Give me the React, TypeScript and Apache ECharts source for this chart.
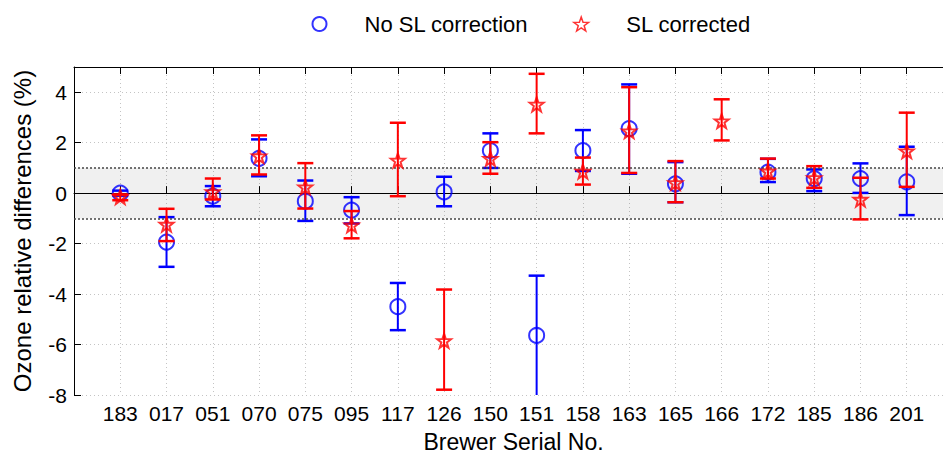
import React, { useEffect, useRef } from "react";
import * as echarts from "echarts";

// Brewer instruments along the x axis
const categories = [
  "183", "017", "051", "070", "075", "095", "117", "126", "150",
  "151", "158", "163", "165", "166", "172", "185", "186", "201",
];

// Relative ozone differences (%) without stray-light correction
const noSlMean = [0.0, -1.94, -0.12, 1.38, -0.32, -0.67, -4.5, 0.05, 1.69, -5.64, 1.69, 2.56, 0.37, null, 0.83, 0.58, 0.58, 0.45];
const noSlLow = [-0.1, -2.92, -0.52, 0.67, -1.1, -1.2, -5.43, -0.52, 1.0, -8.3, 0.88, 0.77, -0.36, null, 0.44, 0.08, 0.01, -0.87];
const noSlHigh = [0.1, -0.95, 0.28, 2.13, 0.5, -0.16, -3.56, 0.65, 2.37, -3.27, 2.5, 4.31, 1.23, null, 1.36, 0.94, 1.18, 1.84];

// Relative ozone differences (%) after stray-light correction
const slMean = [-0.15, -1.24, 0.05, 1.47, 0.24, -1.27, 1.3, -5.85, 1.37, 3.52, 0.86, 2.46, 0.41, 2.86, 0.87, 0.61, -0.25, 1.67];
const slLow = [-0.28, -1.9, -0.25, 0.74, -0.61, -1.79, -0.12, -7.79, 0.77, 2.37, 0.34, 0.8, -0.36, 2.09, 0.58, 0.21, -1.04, 0.25];
const slHigh = [-0.05, -0.62, 0.58, 2.29, 1.19, -0.71, 2.79, -3.82, 2.02, 4.73, 1.41, 4.2, 1.27, 3.72, 1.37, 1.07, 0.61, 3.19];

// Tolerance band (%)
const bandLimits = [-1, 1];

const BLUE = "#0000ff";
const RED = "#ff0000";
const FONT = "'Liberation Sans', Arial, sans-serif";
const STAR =
  "path://M10 0 L12.35 6.76 L19.51 6.91 L13.80 11.24 L15.88 18.09 L10 14 L4.12 18.09 L6.20 11.24 L0.49 6.91 L7.65 6.76 Z";

function points(mean: (number | null)[]) {
  const out: number[][] = [];
  mean.forEach((v, i) => {
    if (v !== null) out.push([i + 1, v]);
  });
  return out;
}

function bars(low: (number | null)[], high: (number | null)[]) {
  const out: number[][] = [];
  low.forEach((v, i) => {
    const h = high[i];
    if (v !== null && h !== null) out.push([i + 1, v, h]);
  });
  return out;
}

function errorBarSeries(name: string, color: string, data: number[][], z: number) {
  return {
    name,
    type: "custom",
    clip: true,
    z,
    data,
    encode: { x: 0, y: [1, 2] },
    renderItem: (_params: any, api: any) => {
      const x = api.value(0);
      const lo = api.coord([x, api.value(1)]);
      const hi = api.coord([x, api.value(2)]);
      const half = 8;
      const stem = { stroke: color, lineWidth: 2, fill: "none" };
      const cap = { stroke: color, lineWidth: 2.5, fill: "none" };
      return {
        type: "group",
        children: [
          { type: "line", shape: { x1: lo[0], y1: lo[1], x2: hi[0], y2: hi[1] }, style: stem },
          { type: "line", shape: { x1: hi[0] - half, y1: hi[1], x2: hi[0] + half, y2: hi[1] }, style: cap },
          { type: "line", shape: { x1: lo[0] - half, y1: lo[1], x2: lo[0] + half, y2: lo[1] }, style: cap },
        ],
      };
    },
  };
}

export default function App() {
  const ref = useRef<HTMLDivElement>(null);

  useEffect(() => {
    if (!ref.current) return;
    const chart = echarts.init(ref.current, undefined, { renderer: "svg" });

    const xAxisBase = {
      type: "value",
      min: 0,
      max: categories.length + 1,
      interval: 1,
      axisLine: { show: true, lineStyle: { color: "#000", width: 1 } },
      axisTick: { show: true, inside: true, length: 7, lineStyle: { color: "#000" } },
    };

    chart.setOption({
      animation: false,
      textStyle: { fontFamily: FONT },
      legend: {
        left: 310,
        top: 13,
        padding: 0,
        itemWidth: 80,
        itemHeight: 14,
        itemGap: 43,
        textStyle: { fontSize: 22, color: "#000", fontFamily: FONT },
        data: [
          {
            name: "No SL correction",
            icon: "circle",
            itemStyle: { color: "none", borderColor: BLUE, borderWidth: 2 },
          },
          {
            name: "SL corrected",
            icon: STAR,
            itemStyle: { color: "none", borderColor: RED, borderWidth: 1.5 },
          },
        ],
      },
      grid: {
        left: 74,
        top: 67,
        bottom: 60,
        right: -10,
        containLabel: false,
        outerBoundsMode: "none",
      },
      xAxis: [
        {
          ...xAxisBase,
          position: "bottom",
          name: "Brewer Serial No.",
          nameLocation: "middle",
          nameGap: 35,
          nameTextStyle: { fontSize: 23, color: "#000", fontFamily: FONT },
          axisLabel: {
            fontSize: 21,
            color: "#000",
            margin: 8,
            fontFamily: FONT,
            formatter: (v: number) => categories[v - 1] ?? "",
          },
          splitLine: { show: true, lineStyle: { color: "#c4c4c4", type: [1, 3], width: 1 } },
        },
        {
          ...xAxisBase,
          position: "top",
          axisLabel: { show: false },
          splitLine: { show: false },
        },
      ],
      yAxis: {
        type: "value",
        min: -8,
        max: 5,
        interval: 2,
        name: "Ozone relative differences (%)",
        nameLocation: "middle",
        nameGap: 40,
        nameTextStyle: { fontSize: 24, color: "#000", fontFamily: FONT },
        axisLine: { show: true, lineStyle: { color: "#000", width: 1 } },
        axisTick: { show: true, inside: true, length: 7, lineStyle: { color: "#000" } },
        axisLabel: {
          fontSize: 21,
          color: "#000",
          margin: 7,
          fontFamily: FONT,
          formatter: (v: number) => (v > 4 ? "" : String(v)),
        },
        splitLine: { show: true, lineStyle: { color: "#c4c4c4", type: [1, 3], width: 1 } },
      },
      series: [
        {
          name: "band",
          type: "line",
          data: [],
          silent: true,
          markArea: {
            silent: true,
            itemStyle: { color: "rgba(0,0,0,0.06)" },
            data: [[{ yAxis: bandLimits[0] }, { yAxis: bandLimits[1] }]],
          },
          markLine: {
            silent: true,
            symbol: "none",
            label: { show: false },
            lineStyle: { color: "#444", type: [2, 2], width: 1.5 },
            data: bandLimits.map((v) => ({ yAxis: v })),
          },
        },
        errorBarSeries("No SL error", BLUE, bars(noSlLow, noSlHigh), 3),
        {
          name: "No SL correction",
          type: "scatter",
          z: 4,
          symbol: "circle",
          symbolSize: 15,
          itemStyle: { color: "none", borderColor: BLUE, borderWidth: 2 },
          data: points(noSlMean),
        },
        errorBarSeries("SL error", RED, bars(slLow, slHigh), 5),
        {
          name: "SL corrected",
          type: "scatter",
          z: 6,
          symbol: STAR,
          symbolSize: 14,
          itemStyle: { color: "none", borderColor: RED, borderWidth: 2 },
          data: points(slMean),
        },
      ],
    });

    return () => chart.dispose();
  }, []);

  return (
    <div
      ref={ref}
      style={{ position: "fixed", left: 0, top: 0, width: 943, height: 455, background: "#fff" }}
    />
  );
}
